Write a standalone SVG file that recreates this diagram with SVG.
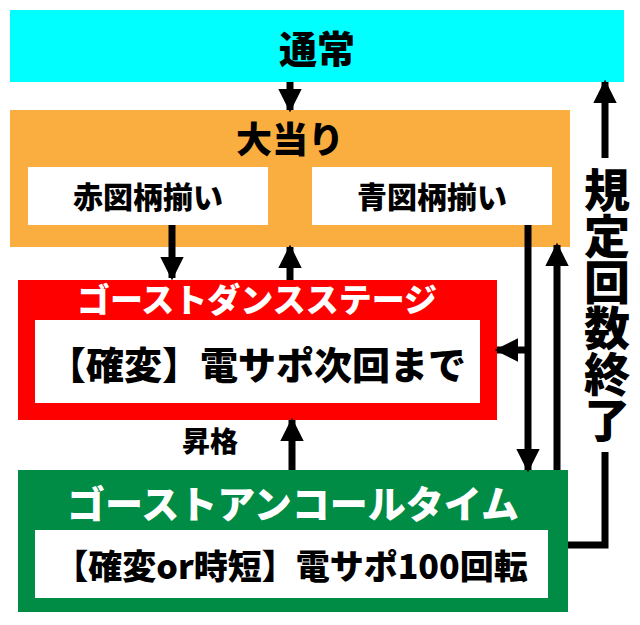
<svg xmlns="http://www.w3.org/2000/svg" width="640" height="625" viewBox="0 0 640 625">
<defs>
<style>
text{font-family:"Noto Sans CJK JP","Noto Sans",sans-serif;font-weight:900;text-anchor:middle;dominant-baseline:central}
.w{fill:#fff}
.ln{stroke:#000;stroke-width:7;fill:none}
</style>
<marker id="a" viewBox="0 0 10 10" refX="9" refY="5" markerWidth="3.4" markerHeight="3.4" orient="auto" markerUnits="strokeWidth"><path d="M0,0L10,5L0,10z" fill="#000"/></marker>
</defs>
<rect width="640" height="625" fill="#fff"/>
<g id="tsujo"><rect x="10" y="10" width="614" height="72" fill="#00ffff"/><text x="317" y="46" font-size="38">通常</text></g>
<g id="ooatari"><rect x="10" y="110" width="560" height="137" fill="#f9ae3f"/><text x="290" y="137" font-size="36">大当り</text>
<rect x="28" y="167" width="240" height="58" class="w"/><text x="148" y="195" font-size="30">赤図柄揃い</text>
<rect x="312" y="167" width="240" height="58" class="w"/><text x="432" y="195" font-size="30">青図柄揃い</text></g>
<g id="ghostdance"><rect x="18" y="280" width="479" height="140" fill="#ff0000"/><text x="257" y="298" font-size="33" class="w">ゴーストダンスステージ</text>
<rect x="35" y="320" width="445" height="83" class="w"/><text x="257" y="362" font-size="38">【確変】電サポ次回まで</text></g>
<g id="ghostencore"><rect x="18" y="470" width="550" height="142" fill="#008c44"/><text x="293" y="501" font-size="38" class="w">ゴーストアンコールタイム</text>
<rect x="35" y="530" width="513" height="68" class="w"/><text x="291" y="564" font-size="34">【確変or時短】電サポ100回転</text></g>
<g id="connectors">
<line class="ln" x1="290" y1="82" x2="290" y2="110" marker-end="url(#a)"/>
<line class="ln" x1="172" y1="225" x2="172" y2="278" marker-end="url(#a)"/>
<line class="ln" x1="290" y1="280" x2="290" y2="247" marker-end="url(#a)"/>
<line class="ln" x1="292" y1="470" x2="292" y2="420" marker-end="url(#a)"/>
<line class="ln" x1="528" y1="225" x2="528" y2="470" marker-end="url(#a)"/>
<line class="ln" x1="528" y1="350" x2="497" y2="350" marker-end="url(#a)"/>
<line class="ln" x1="557" y1="470" x2="557" y2="245" marker-end="url(#a)"/>
<polyline class="ln" points="568,545 605,545 605,452"/>
<line class="ln" x1="605" y1="158" x2="605" y2="82" marker-end="url(#a)"/>
<text x="210" y="440" font-size="28">昇格</text>
<text x="607" y="305" font-size="46" style="writing-mode:vertical-rl" dominant-baseline="auto">規定回数終了</text>
</g>
</svg>
